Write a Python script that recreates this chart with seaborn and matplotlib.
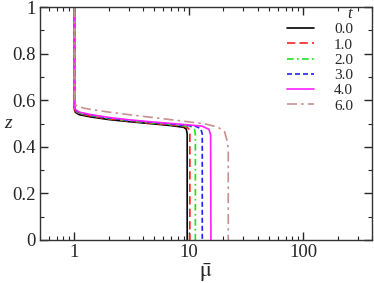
import numpy as np
import pandas as pd
import matplotlib
matplotlib.use("Agg")
import matplotlib.pyplot as plt
import seaborn as sns
from matplotlib.ticker import LogLocator, NullFormatter, FixedLocator, FixedFormatter

# curves mu_bar(z) for each t
t_labels = ["0.0", "1.0", "2.0", "3.0", "4.0", "6.0"]

mu_t0 = [1, 1, 1.02, 1.1, 1.4, 2, 3, 5, 7, 9, 9.5, 9.67, 9.67]
z_t0 = [1.0, 0.56, 0.548, 0.538, 0.528, 0.517, 0.508, 0.498, 0.491, 0.484, 0.476, 0.455, 0.0]

mu_t1 = [1, 1, 1.02, 1.1, 1.4, 2, 3, 5, 7, 9.5, 10.0, 10.2, 10.2]
z_t1 = [1.0, 0.565, 0.553, 0.542, 0.532, 0.52, 0.511, 0.5, 0.494, 0.486, 0.477, 0.455, 0.0]

mu_t2 = [1, 1, 1.02, 1.1, 1.4, 2, 3, 5, 8, 10.5, 11.2, 11.4, 11.4]
z_t2 = [1.0, 0.567, 0.556, 0.545, 0.534, 0.522, 0.512, 0.502, 0.493, 0.486, 0.476, 0.455, 0.0]

mu_t3 = [1, 1, 1.02, 1.1, 1.4, 2, 3, 5, 8, 11.5, 12.7, 13.1, 13.1]
z_t3 = [1.0, 0.57, 0.558, 0.547, 0.536, 0.524, 0.514, 0.504, 0.495, 0.488, 0.478, 0.455, 0.0]

mu_t4 = [1, 1, 1.02, 1.1, 1.4, 2, 3, 5, 8, 13, 15, 15.5, 15.6]
z_t4 = [1.0, 0.572, 0.56, 0.549, 0.538, 0.526, 0.516, 0.506, 0.498, 0.489, 0.475, 0.45, 0.0]

mu_t6 = [1, 1, 1.03, 1.2, 1.5, 2, 3, 5, 8, 14, 18, 20.5, 21.8, 22.1, 22.1]
z_t6 = [1.0, 0.59, 0.578, 0.566, 0.558, 0.549, 0.538, 0.525, 0.513, 0.498, 0.484, 0.465, 0.42, 0.38, 0.0]

y_ticks = [0, 0.2, 0.4, 0.6, 0.8, 1.0]
y_ticklabels = ["0", "0.2", "0.4", "0.6", "0.8", "1"]
x_ticks = [1, 10, 100]
x_ticklabels = ["1", "10", "100"]

mus = [mu_t0, mu_t1, mu_t2, mu_t3, mu_t4, mu_t6]
zs = [z_t0, z_t1, z_t2, z_t3, z_t4, z_t6]

rows = []
for lab, mu, z in zip(t_labels, mus, zs):
    for i, (m, zz) in enumerate(zip(mu, z)):
        rows.append({"t": lab, "mu": m, "z": zz, "i": i})
df = pd.DataFrame(rows)

colors = ["black", "#ff2020", "#20e020", "#2020ff", "#ff20ff", "#c89090"]
palette = dict(zip(t_labels, colors))
dashes = dict(zip(t_labels, ["", (5, 2.5), (4, 2, 1, 2), (3, 1.8), "", (6, 2.5, 1.5, 2.5)]))

sns.set_theme(style="ticks")
plt.rcParams["font.family"] = ["Liberation Serif", "DejaVu Serif"]
plt.rcParams["mathtext.fontset"] = "stix"

fig = plt.figure(figsize=(3.74, 2.83), dpi=100)
ax = fig.add_axes([0.107, 0.152, 0.888, 0.823])

sns.lineplot(data=df, x="mu", y="z", hue="t", style="t", palette=palette,
             dashes=dashes, sort=False, estimator=None, linewidth=1.2, ax=ax)

ax.set_xscale("log")
ax.set_xlim(0.5, 400)
ax.set_ylim(0, 1)

ax.xaxis.set_major_locator(FixedLocator(x_ticks))
ax.xaxis.set_major_formatter(FixedFormatter(x_ticklabels))
ax.xaxis.set_minor_locator(LogLocator(base=10, subs=np.arange(2, 10)))
ax.xaxis.set_minor_formatter(NullFormatter())
ax.yaxis.set_major_locator(FixedLocator(y_ticks))
ax.yaxis.set_major_formatter(FixedFormatter(y_ticklabels))
ax.yaxis.set_minor_locator(FixedLocator([0.1, 0.3, 0.5, 0.7, 0.9]))

ax.tick_params(which="both", direction="in", top=True, right=True, labelsize=13.5, pad=3)
ax.tick_params(which="major", length=6, width=1)
ax.tick_params(which="minor", length=3, width=0.8)
for s in ax.spines.values():
    s.set_linewidth(1.0)
    s.set_color("#333333")

ax.set_xlabel(r"$\bar{\mathrm{\mu}}$", fontsize=16, labelpad=0)
ax.set_ylabel("z", fontsize=14, style="italic", rotation=0, va="center", ha="center")
ax.yaxis.set_label_coords(-0.096, 0.50)

handles, labels = ax.get_legend_handles_labels()
leg = ax.legend(handles, labels, loc="upper right", frameon=False,
                fontsize=11, handlelength=1.8, handletextpad=1.3, labelspacing=0.1,
                borderaxespad=0.2, bbox_to_anchor=(0.97, 0.972))
# legend title drawn over the label column
ax.text(0.931, 0.972, "t", transform=ax.transAxes, fontsize=12, style="italic",
        ha="center", va="center")

fig.savefig("out.png", dpi=100)
